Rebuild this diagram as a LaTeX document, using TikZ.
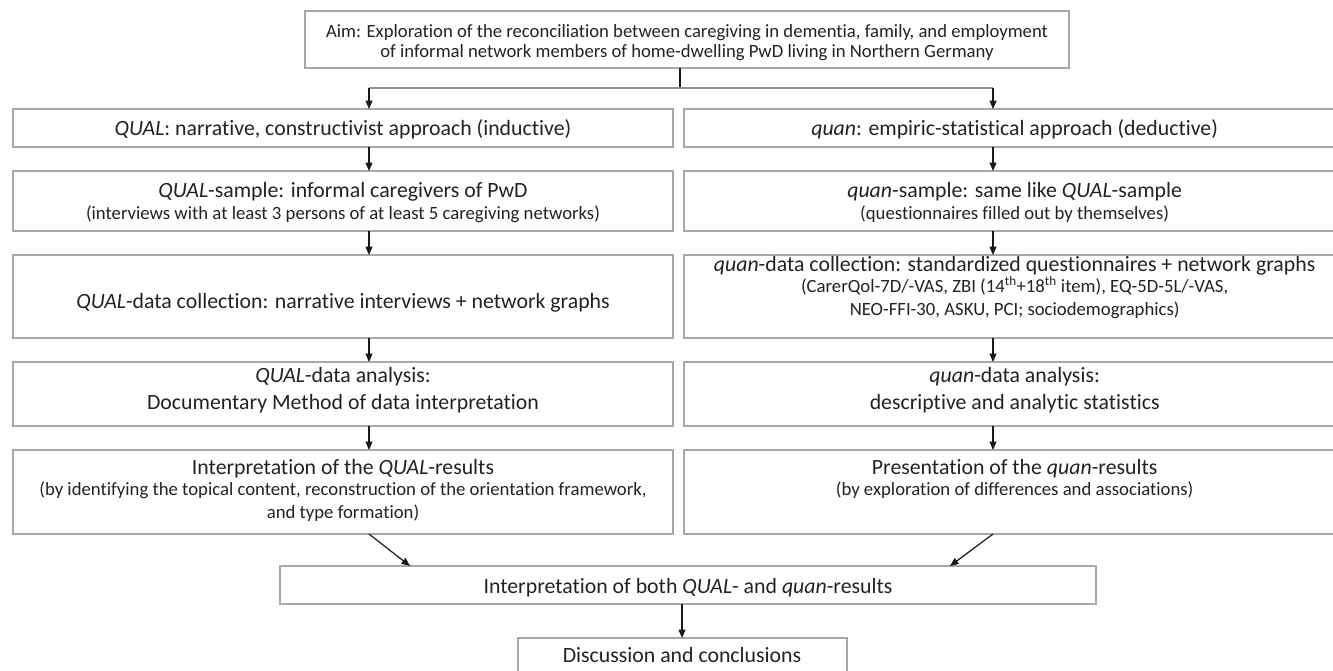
\documentclass[tikz,border=0pt]{standalone}
\usepackage{fontspec}
\setmainfont{Carlito}[Ligatures={NoCommon,NoContextual,NoRare},Contextuals=NoAlternate]
\usetikzlibrary{arrows.meta}
\definecolor{boxgray}{HTML}{A8A8A8}
\definecolor{textc}{HTML}{222222}
\definecolor{linegray}{HTML}{8F8F8F}
\newlength\mwA \newlength\mwB \newlength\mwC
\newlength\mwF \newlength\mwG
\newcommand\calibrate{%
\settowidth\mwA{\normalfont\fontsize{10}{12}\selectfont\emph{QUAL}: narrative, constructivist approach (inductive)}%
\settowidth\mwB{\normalfont\fontsize{10}{12}\selectfont\emph{QUAL}-sample: informal caregivers of PwD}%
\settowidth\mwC{\normalfont\fontsize{10}{12}\selectfont(interviews with at least 3 persons of at least 5 caregiving networks)}%
\settowidth\mwF{\normalfont\fontsize{10}{12}\selectfont Aim: Exploration of the reconciliation between caregiving in dementia, family, and employment}%
\settowidth\mwG{\normalfont\fontsize{10}{12}\selectfont\emph{quan}: empiric-statistical approach (deductive)}%
\pgfmathsetmacro\mainsz{5*(458/\mwA + 368/\mwB)}%
\pgfmathsetmacro\smallsz{10*514/\mwC}%
\pgfmathsetmacro\topsz{10*722/\mwF}%
\pgfmathsetmacro\xr{1218 - 0.5*\mwG*\mainsz/10}%
\pgfmathsetmacro\rw{2*(\xr-684)}%
}
\AtBeginDocument{\calibrate}
\begin{document}
\begin{tikzpicture}[x=1pt,y=-1pt,
  box/.style={draw=boxgray, line width=1.2pt, inner sep=0pt, outer sep=0pt, anchor=north west},
  mainf/.style={anchor=base, inner sep=0pt, text=textc, font=\fontsize{\mainsz}{\mainsz}\selectfont},
  smallf/.style={anchor=base, inner sep=0pt, text=textc, font=\fontsize{\smallsz}{\smallsz}\selectfont},
  topf/.style={anchor=base, inner sep=0pt, text=textc, font=\fontsize{\topsz}{\topsz}\selectfont},
  arr/.style={draw=black!90, line width=1.2pt, -{Triangle[length=8.5pt,width=7pt]}},
]
\useasboundingbox (0,0) rectangle (1333,670);
\begin{scope}
\clip (0,0) rectangle (1333,670);
% boxes
\node[box, minimum width=764pt, minimum height=57pt] (top) at (305,11) {};
\node[box, minimum width=660pt, minimum height=38pt] (l1) at (13,109) {};
\node[box, minimum width=\rw pt, minimum height=38pt] (r1) at (684,109) {};
\node[box, minimum width=660pt, minimum height=60pt] (l2) at (13,171) {};
\node[box, minimum width=\rw pt, minimum height=60pt] (r2) at (684,171) {};
\node[box, minimum width=660pt, minimum height=83pt] (l3) at (13,255) {};
\node[box, minimum width=\rw pt, minimum height=83pt] (r3) at (684,255) {};
\node[box, minimum width=660pt, minimum height=64pt] (l4) at (13,362) {};
\node[box, minimum width=\rw pt, minimum height=64pt] (r4) at (684,362) {};
\node[box, minimum width=660pt, minimum height=84pt] (l5) at (13,450) {};
\node[box, minimum width=\rw pt, minimum height=84pt] (r5) at (684,450) {};
\node[box, minimum width=816pt, minimum height=38pt] (c) at (280,566) {};
\node[box, minimum width=329pt, minimum height=36pt] (d) at (518,638) {};
\end{scope}
% texts
\node[topf] (t1) at (687,37) {Aim: Exploration of the reconciliation between caregiving in dementia, family, and employment};
\node[topf] (t2) at (687,57) {of informal network members of home-dwelling PwD living in Northern Germany};
\node[mainf] (l1t) at (343,135) {\emph{QUAL}: narrative, constructivist approach (inductive)};
\node[mainf] (r1t) at (\xr,135) {\emph{quan}: empiric-statistical approach (deductive)};
\node[mainf] (l2a) at (343,197) {\emph{QUAL}-sample: informal caregivers of PwD};
\node[smallf] (l2b) at (343,219) {(interviews with at least 3 persons of at least 5 caregiving networks)};
\node[mainf] (r2a) at (\xr,197) {\emph{quan}-sample: same like \emph{QUAL}-sample};
\node[smallf] (r2b) at (\xr,219) {(questionnaires filled out by themselves)};
\node[mainf] (l3t) at (343,308) {\emph{QUAL}-data collection: narrative interviews + network graphs};
\node[mainf] (r3a) at (\xr,271) {\emph{quan}-data collection: standardized questionnaires + network graphs};
\node[smallf] (r3b) at (\xr,292) {(CarerQol-7D/-VAS, ZBI (14\textsuperscript{th}+18\textsuperscript{th} item), EQ-5D-5L/-VAS,};
\node[smallf] (r3c) at (\xr,315) {NEO-FFI-30, ASKU, PCI; sociodemographics)};
\node[mainf] (l4a) at (343,382) {\emph{QUAL}-data analysis:};
\node[mainf] (l4b) at (343,409) {Documentary Method of data interpretation};
\node[mainf] (r4a) at (\xr,382) {\emph{quan}-data analysis:};
\node[mainf] (r4b) at (\xr,409) {descriptive and analytic statistics};
\node[mainf] (l5a) at (343,474) {Interpretation of the \emph{QUAL}-results};
\node[smallf] (l5b) at (343,495) {(by identifying the topical content, reconstruction of the orientation framework,};
\node[smallf] (l5c) at (343,518) {and type formation)};
\node[mainf] (r5a) at (\xr,474) {Presentation of the \emph{quan}-results};
\node[smallf] (r5b) at (\xr,495) {(by exploration of differences and associations)};
\node[mainf] (ct) at (688,593) {Interpretation of both \emph{QUAL}- and \emph{quan}-results};
\node[mainf] (dt) at (682,662) {Discussion and conclusions};
% connector coordinates
\coordinate (axL) at (369,0);
\coordinate (axR) at (993,0);
\coordinate (axM) at (680,88);
\coordinate (axD) at (682,0);
\coordinate (cL) at (410,0);
\coordinate (cR) at (950,0);
% branch
\draw[black!90, line width=1.1pt] (top.south -| axM) -- (axM);
\draw[linegray, line width=1.6pt] (axM -| axL) -- (axM -| axR);
\draw[arr] (axM -| axL) -- (l1.north -| axL);
\draw[arr] (axM -| axR) -- (r1.north -| axR);
% column arrows
\draw[arr] (l1.south -| axL) -- (l2.north -| axL);
\draw[arr] (l2.south -| axL) -- (l3.north -| axL);
\draw[arr] (l3.south -| axL) -- (l4.north -| axL);
\draw[arr] (l4.south -| axL) -- (l5.north -| axL);
\draw[arr] (r1.south -| axR) -- (r2.north -| axR);
\draw[arr] (r2.south -| axR) -- (r3.north -| axR);
\draw[arr] (r3.south -| axR) -- (r4.north -| axR);
\draw[arr] (r4.south -| axR) -- (r5.north -| axR);
% merge
\draw[arr] (l5.south -| axL) -- (c.north -| cL);
\draw[arr] (r5.south -| axR) -- (c.north -| cR);
\draw[arr] (c.south -| axD) -- (d.north -| axD);
\end{tikzpicture}
\end{document}
